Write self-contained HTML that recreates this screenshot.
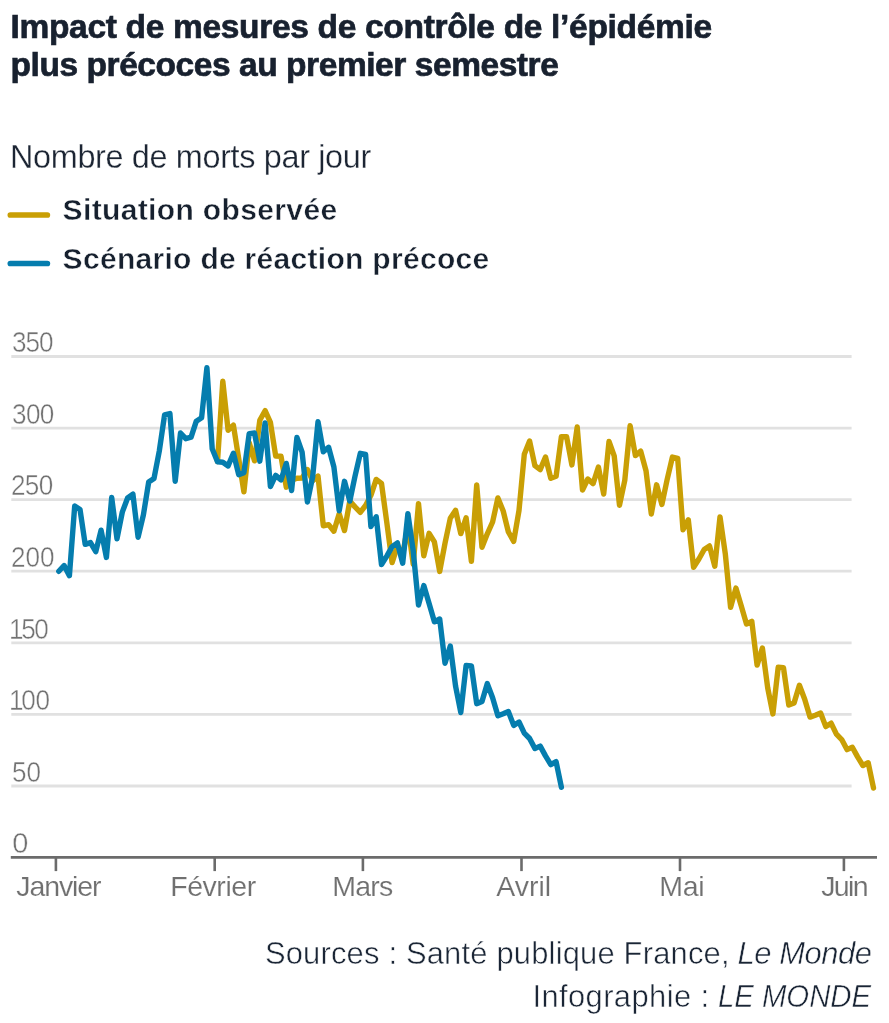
<!DOCTYPE html>
<html lang="fr"><head><meta charset="utf-8"><title>Impact de mesures de contrôle de l’épidémie</title>
<style>
html,body{margin:0;padding:0;background:#fff;}
body{width:889px;height:1023px;position:relative;overflow:hidden;font-family:"Liberation Sans",sans-serif;color:#1b2333;}
.t{position:absolute;white-space:nowrap;line-height:1;}
.title{font-weight:bold;-webkit-text-stroke:0.7px #18212f;color:#18212f;}
.sub{color:#1c2533;-webkit-text-stroke:0.3px #fff;}
.leg{font-weight:bold;-webkit-text-stroke:0.45px #fff;color:#16202e;}
.yl{color:#727272;-webkit-text-stroke:0.45px #fff;transform-origin:0 0;transform:scaleX(0.9);}
#y0{transform:none;}
.y1::first-letter{letter-spacing:-2.6px;}
.xl{color:#707070;-webkit-text-stroke:0.15px #fff;}
.src{color:#1a2535;-webkit-text-stroke:0.5px #fff;}
</style></head><body>
<svg width="889" height="1023" viewBox="0 0 889 1023" style="position:absolute;left:0;top:0">
<line x1="11.3" x2="851.6" y1="356.5" y2="356.5" stroke="#e1e1e1" stroke-width="2.8"/>
<line x1="11.3" x2="851.6" y1="428.1" y2="428.1" stroke="#e1e1e1" stroke-width="2.8"/>
<line x1="11.3" x2="851.6" y1="499.6" y2="499.6" stroke="#e1e1e1" stroke-width="2.8"/>
<line x1="11.3" x2="851.6" y1="571.2" y2="571.2" stroke="#e1e1e1" stroke-width="2.8"/>
<line x1="11.3" x2="851.6" y1="642.8" y2="642.8" stroke="#e1e1e1" stroke-width="2.8"/>
<line x1="11.3" x2="851.6" y1="714.4" y2="714.4" stroke="#e1e1e1" stroke-width="2.8"/>
<line x1="11.3" x2="851.6" y1="786.0" y2="786.0" stroke="#e1e1e1" stroke-width="2.8"/>
<polyline fill="none" stroke="#c99f05" stroke-width="5.4" stroke-linejoin="round" stroke-linecap="round" points="217.5,461.6 222.8,381.2 228.1,430.2 233.4,425.2 238.7,458.7 243.9,491.9 249.2,442.8 254.5,460.8 259.8,420.3 265.1,410.7 270.4,422.3 275.7,456.1 281.0,456.3 286.3,487.2 291.6,480.3 296.9,478.3 302.1,478.0 307.4,469.6 312.7,480.7 318.0,476.0 323.3,525.8 328.6,524.6 333.9,531.2 339.2,513.8 344.5,530.6 349.8,501.0 355.0,506.9 360.3,512.3 365.6,505.5 370.9,495.3 376.2,479.4 381.5,483.3 386.8,522.5 392.1,562.6 397.4,546.2 402.7,554.7 407.9,525.2 413.2,564.2 418.5,503.6 423.8,555.8 429.1,533.3 434.4,541.9 439.7,571.4 445.0,543.2 450.3,518.2 455.6,510.3 460.8,533.6 466.1,517.8 471.4,561.3 476.7,485.0 482.0,547.3 487.3,533.8 492.6,522.0 497.9,497.9 503.2,511.0 508.4,532.0 513.7,541.4 519.0,510.5 524.3,454.3 529.6,441.0 534.9,465.7 540.2,469.6 545.5,457.0 550.8,478.3 556.1,476.3 561.4,436.7 566.6,436.8 571.9,464.9 577.2,427.0 582.5,490.1 587.8,479.0 593.1,483.6 598.4,467.1 603.7,494.0 609.0,441.4 614.2,455.9 619.5,505.3 624.8,480.2 630.1,425.8 635.4,455.6 640.7,451.2 646.0,470.7 651.3,514.0 656.6,484.8 661.9,504.5 667.1,479.8 672.4,457.1 677.7,458.3 683.0,529.7 688.3,519.9 693.6,567.4 698.9,559.0 704.2,549.5 709.5,545.9 714.8,566.2 720.0,516.9 725.3,553.8 730.6,607.4 735.9,588.1 741.2,605.8 746.5,624.0 751.8,621.3 757.1,665.1 762.4,648.0 767.7,687.9 772.9,713.9 778.2,667.3 783.5,667.8 788.8,705.1 794.1,702.9 799.4,685.3 804.7,699.3 810.0,717.1 815.3,715.2 820.6,713.0 825.8,726.6 831.1,723.2 836.4,734.2 841.7,739.6 847.0,749.6 852.3,747.2 857.6,756.9 862.9,765.5 868.2,762.7 873.5,788.0"/>
<polyline fill="none" stroke="#057dae" stroke-width="5.4" stroke-linejoin="round" stroke-linecap="round" points="58.8,571.3 64.1,565.5 69.4,575.7 74.7,506.0 80.0,509.4 85.2,544.4 90.5,542.6 95.8,551.6 101.1,530.2 106.4,557.4 111.7,497.5 117.0,538.8 122.3,512.1 127.6,498.0 132.9,494.1 138.1,537.2 143.4,514.9 148.7,482.0 154.0,478.4 159.3,451.0 164.6,414.9 169.9,413.5 175.2,481.2 180.5,433.0 185.8,438.7 191.1,437.2 196.3,421.2 201.6,417.8 206.9,367.7 212.2,448.8 217.5,461.8 222.8,462.3 228.1,465.9 233.4,453.2 238.7,474.7 243.9,472.7 249.2,433.6 254.5,433.0 259.8,461.2 265.1,422.9 270.4,486.6 275.7,475.4 281.0,480.0 286.3,463.4 291.6,490.5 296.9,437.4 302.1,452.1 307.4,502.0 312.7,476.6 318.0,421.7 323.3,451.8 328.6,447.3 333.9,467.0 339.2,510.8 344.5,481.3 349.8,501.1 355.0,476.2 360.3,453.3 365.6,454.5 370.9,526.6 376.2,516.7 381.5,564.6 386.8,556.1 392.1,546.6 397.4,542.9 402.7,563.2 407.9,513.6 413.2,550.9 418.5,605.0 423.8,585.6 429.1,603.4 434.4,621.8 439.7,619.0 445.0,663.3 450.3,646.0 455.6,686.3 460.8,712.5 466.1,665.5 471.4,666.0 476.7,703.7 482.0,701.4 487.3,683.6 492.6,697.8 497.9,715.8 503.2,713.8 508.4,711.6 513.7,725.4 519.0,722.0 524.3,733.1 529.6,738.5 534.9,748.5 540.2,746.1 545.5,755.9 550.8,764.6 556.1,761.7 561.4,787.3"/>
<line x1="10.8" x2="877" y1="857.35" y2="857.35" stroke="#6b6b6b" stroke-width="2.9"/>
<line x1="55.9" x2="55.9" y1="857.5" y2="871.1" stroke="#6b6b6b" stroke-width="2.6"/>
<line x1="214.7" x2="214.7" y1="857.5" y2="871.1" stroke="#6b6b6b" stroke-width="2.6"/>
<line x1="362.9" x2="362.9" y1="857.5" y2="871.1" stroke="#6b6b6b" stroke-width="2.6"/>
<line x1="521.5" x2="521.5" y1="857.5" y2="871.1" stroke="#6b6b6b" stroke-width="2.6"/>
<line x1="680.0" x2="680.0" y1="857.5" y2="871.1" stroke="#6b6b6b" stroke-width="2.6"/>
<line x1="843.9" x2="843.9" y1="857.5" y2="871.1" stroke="#6b6b6b" stroke-width="2.6"/>
<line x1="10.35" x2="47.35" y1="215" y2="215" stroke="#c99f05" stroke-width="5.7" stroke-linecap="round"/>
<line x1="10.35" x2="47.35" y1="263.5" y2="263.5" stroke="#057dae" stroke-width="5.7" stroke-linecap="round"/>
</svg>
<div class="t title" id="t1" style="font-size:33.5px;left:10.49px;top:10.00px;letter-spacing:-0.317px">Impact de mesures de contrôle de l’épidémie</div>
<div class="t title" id="t2" style="font-size:33.5px;left:10.56px;top:48.00px;letter-spacing:-0.440px">plus précoces au premier semestre</div>
<div class="t sub" id="sub" style="font-size:32.4px;left:10.02px;top:141.00px;letter-spacing:-0.339px">Nombre de morts par jour</div>
<div class="t leg" id="l1" style="font-size:30px;left:62.61px;top:195.00px;letter-spacing:0.361px">Situation observée</div>
<div class="t leg" id="l2" style="font-size:30px;left:62.61px;top:244.00px;letter-spacing:0.301px">Scénario de réaction précoce</div>
<div class="srcline">
<span class="t src" id="s1a" style="font-size:30.9px;left:264.90px;top:939.00px;letter-spacing:0.198px">Sources : Santé publique France, </span>
<span class="t src" id="s1b" style="font-size:30.9px;left:737.38px;top:939.00px;letter-spacing:-0.392px"><i>Le Monde</i></span>
</div>
<div class="srcline">
<span class="t src" id="s2a" style="font-size:30.9px;left:532.38px;top:982.00px;letter-spacing:0.418px">Infographie : </span>
<span class="t src" id="s2b" style="font-size:30.9px;left:718.14px;top:982.00px;letter-spacing:-0.040px;transform-origin:0 0;transform:scaleX(0.95)"><i>LE MONDE</i></span>
</div>
<div class="t xl" id="x1" style="font-size:28.5px;left:16.25px;top:872.00px;letter-spacing:-1.106px">Janvier</div>
<div class="t xl" id="x2" style="font-size:28.5px;left:170.21px;top:872.00px;letter-spacing:-0.446px">Février</div>
<div class="t xl" id="x3" style="font-size:28.5px;left:332.29px;top:872.00px;letter-spacing:-0.770px">Mars</div>
<div class="t xl" id="x4" style="font-size:28.5px;left:496.36px;top:872.00px;letter-spacing:-0.072px">Avril</div>
<div class="t xl" id="x5" style="font-size:28.5px;left:659.21px;top:872.00px;letter-spacing:-0.261px">Mai</div>
<div class="t xl" id="x6" style="font-size:28.5px;left:821.25px;top:872.00px;letter-spacing:-1.676px">Juin</div>
<div class="t yl" id="y350" style="font-size:29px;left:12.34px;top:328.00px;letter-spacing:-1.175px">350</div>
<div class="t yl" id="y300" style="font-size:29px;left:12.34px;top:400.00px;letter-spacing:-0.670px">300</div>
<div class="t yl" id="y250" style="font-size:29px;left:11.33px;top:471.00px;letter-spacing:-0.719px">250</div>
<div class="t yl" id="y200" style="font-size:29px;left:11.33px;top:543.00px;letter-spacing:-0.037px">200</div>
<div class="t yl y1" id="y150" style="font-size:29px;left:9.45px;top:615.00px;letter-spacing:-1.577px">150</div>
<div class="t yl y1" id="y100" style="font-size:29px;left:9.45px;top:686.00px;letter-spacing:-0.308px">100</div>
<div class="t yl" id="y50" style="font-size:29px;left:11.59px;top:758.00px;letter-spacing:-0.150px">50</div>
<div class="t yl" id="y0" style="font-size:29px;left:12.21px;top:829.00px;letter-spacing:0.000px">0</div>
</body></html>
